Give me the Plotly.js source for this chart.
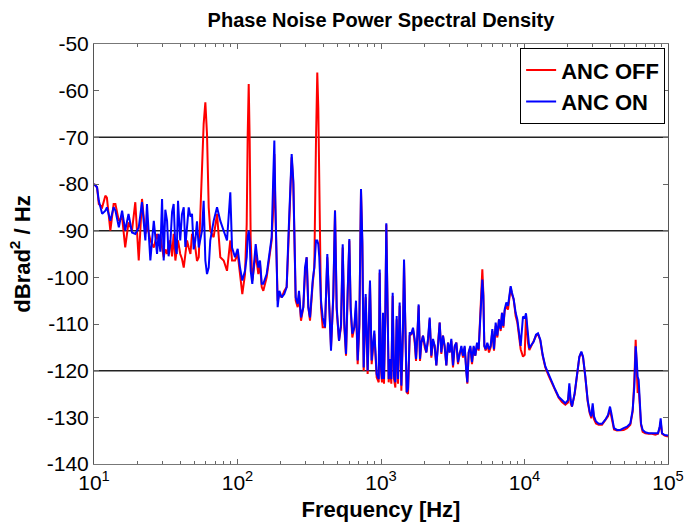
<!DOCTYPE html>
<html>
<head>
<meta charset="utf-8">
<script src="https://cdn.plot.ly/plotly-3.0.1.min.js"></script>
<style>html,body{margin:0;padding:0;background:#fff;}#chart{width:689px;height:528px;}</style>
</head>
<body>
<div id="chart"></div>
<script>
// Frequency axis (Hz)
const freqHz = [
  10, 10.5, 10.8, 11.4, 12.0, 12.3, 13.0, 13.7, 14.1, 14.9,
  15.7, 16.5, 17.4, 18.4, 19.4, 20.5, 21.6, 22.8, 23.4, 24.7,
  26.1, 27.5, 28.2, 29.0, 29.8, 30.6, 31.4, 32.3, 33.1, 34.0,
  35.0, 35.9, 36.9, 37.7, 38.5, 39.9, 41.0, 42.2, 43.3, 44.5,
  45.7, 47.0, 48.2, 49.5, 50.8, 52.2, 53.7, 56.6, 58.1, 59.7,
  61.3, 63.0, 64.6, 68.2, 72.0, 75.9, 80.1, 84.5, 89.1, 91.6,
  96.1, 100.3, 104.1, 108.0, 112.8, 115.9, 117.8, 119.7, 121.6, 123.6,
  126.8, 133.9, 139.7, 143.5, 147.5, 151.3, 159.7, 165.8, 173.0, 177.7,
  180.6, 183.5, 187.6, 190.5, 195.7, 203.2, 211.8, 220.1, 225.9, 232.1,
  238.5, 244.9, 248.9, 254.4, 262.7, 268.3, 277.0, 287.5, 295.4, 303.4,
  311.5, 320.1, 334.2, 342.9, 352.4, 359.7, 365.6, 371.5, 381.8, 392.3,
  407.2, 422.5, 436.3, 448.3, 465.2, 478.1, 491.3, 509.8, 526.5, 540.9,
  555.4, 570.4, 585.9, 601.7, 614.7, 631.3, 651.7, 669.6, 687.8, 706.3,
  725.5, 741.3, 757.3, 781.9, 807.2, 838.0, 861.0, 898.5, 932.9,
  964, 979, 995, 1016, 1033, 1049, 1072, 1089, 1107, 1131,
  1155, 1180, 1206, 1232, 1259, 1286, 1314, 1349, 1386, 1423,
  1447, 1478, 1510, 1543, 1585, 1627, 1671, 1717, 1754, 1792,
  1830, 1870, 1910, 1962, 2016, 2070, 2126, 2184, 2243, 2304,
  2366, 2430, 2496, 2564, 2633, 2704, 2778, 2853, 2930, 3010,
  3091, 3175, 3261, 3350, 3440, 3534, 3630, 3728, 3828, 3932,
  3996, 4083, 4193, 4307, 4424, 4543, 4667, 4793, 4897, 5003,
  5083, 5165, 5249, 5363, 5508, 5657, 5810, 5968, 6130, 6296,
  6467, 6642, 6822, 6970, 7120, 7275, 7472, 7674, 7882, 8010,
  8183, 8405, 8678, 8913, 9154, 9403,
  9761, 10032, 10244, 10578, 10808, 11159, 11584, 12025, 12418, 12891,
  13384, 13970, 14735, 15544, 16398, 17298, 18248, 19250, 20099, 20533,
  20977, 21430, 22368, 23225, 24111, 24898, 25573, 26546, 27556, 28455,
  29226, 29859, 30506, 31500, 32880, 34687, 36590, 38190, 39433, 40287,
  41159, 42050, 44125, 46545, 49095, 51800, 54640, 56730, 58270, 59530,
  60490, 61460, 62450, 63460, 64830, 66590, 69500, 73330, 77350, 81600,
  85170, 87480, 88900, 90840, 94800, 100000
];

// ANC OFF (dBrad^2/Hz)
const ancOffDb = [
  -80.0, -80.7, -84.3, -85.0, -82.5, -82.9, -90.0, -84.3, -84.3, -87.9,
  -87.1, -93.6, -88.2, -90.0, -83.9, -96.4, -83.2, -90.7, -88.6, -92.1,
  -93.6, -90.7, -92.1, -91.0, -93.6, -95.7, -94.0, -95.0, -93.0, -92.1,
  -95.5, -90.7, -96.4, -93.5, -92.1, -95.0, -96.0, -97.9, -94.5, -92.1,
  -93.6, -95.0, -90.7, -91.5, -93.6, -96.5, -95.7, -77.9, -67.1, -62.5,
  -69.3, -85.0, -90.0, -91.4, -86.4, -95.7, -96.4, -98.6, -92.1, -96.4,
  -96.4, -95.0, -99.3, -103.6, -99.3, -88.6, -69.3, -58.6, -70.7, -92.1,
  -100.7, -95.0, -99.3, -97.1, -102.1, -102.9, -100.0, -96.4, -92.1, -85.0,
  -73.6, -85.0, -99.3, -105.0, -103.6, -104.3, -102.9, -102.1, -93.6, -84.3,
  -74.3, -80.0, -92.1, -105.0, -106.4, -103.6, -109.3, -106.4, -99.3, -95.7,
  -106.4, -109.3, -101.4, -97.9, -70.7, -56.1, -63.6, -85.0, -106.4, -110.7,
  -110.7, -95.7, -107.1, -115.0, -104.3, -85.7, -107.1, -113.6, -110.7, -93.6,
  -110.7, -116.8, -103.6, -92.1, -107.1, -112.9, -110.7, -106.4, -118.6, -110.7,
  -81.4, -92.9, -120.0, -104.3, -120.7, -101.4, -118.6, -112.1, -121.4,
  -122.5, -99.0, -118.9, -122.5, -108.3, -122.8, -108.3, -88.7, -101.2, -122.5,
  -118.9, -122.8, -104.0, -121.8, -123.6, -109.0, -122.8, -106.1, -124.3, -111.8,
  -96.9, -111.8, -124.6, -125.0, -112.5, -112.2, -111.1, -114.0, -117.9, -112.5,
  -106.1, -117.9, -114.0, -112.5, -115.0, -116.1, -113.6, -109.0, -117.2, -113.6,
  -114.7, -118.9, -114.7, -109.7, -116.4, -112.5, -115.0, -118.9, -114.0, -116.1,
  -113.6, -119.3, -115.0, -114.0, -118.6, -116.1, -115.4, -117.2, -115.0, -120.4,
  -122.8, -116.1, -115.0, -118.6, -115.0, -116.8, -114.3, -115.7, -110.4, -104.7,
  -98.3, -103.3, -114.7, -115.7, -114.3, -116.1, -115.0, -111.5, -115.7, -110.4,
  -112.9, -109.0, -111.5, -107.6, -110.8, -107.2, -106.1, -106.9, -102.9, -102.2,
  -103.7, -104.7, -108.3, -109.7, -112.5, -115.4,
  -117.0, -116.6, -108.1, -114.1, -115.6, -114.7, -114.0, -112.6, -112.1, -113.6,
  -116.8, -119.3, -121.1, -122.6, -124.3, -125.8, -126.7, -127.3, -126.8, -123.4,
  -127.0, -127.7, -125.0, -120.7, -117.1, -116.1, -117.1, -121.4, -126.6, -129.1,
  -130.2, -127.7, -130.4, -131.3, -131.6, -131.6, -130.7, -129.8, -128.4, -129.8,
  -131.3, -132.6, -132.8, -132.8, -132.7, -132.3, -131.6, -128.8, -122.0, -113.4,
  -119.8, -124.8, -123.4, -127.0, -131.6, -133.1, -133.4, -133.5, -133.5, -133.7,
  -133.5, -132.3, -130.9, -133.5, -133.9, -134.1
];

// ANC ON (dBrad^2/Hz)
const ancOnDb = [
  -80.0, -80.7, -83.6, -86.4, -85.7, -85.0, -87.9, -85.0, -85.7, -89.3,
  -85.7, -90.0, -86.4, -90.4, -90.7, -89.3, -83.9, -92.1, -84.3, -96.4,
  -87.9, -95.0, -90.7, -94.5, -83.2, -96.4, -85.5, -87.9, -95.5, -92.9,
  -86.0, -84.3, -93.6, -95.0, -83.6, -92.1, -86.5, -85.0, -93.5, -89.3,
  -85.0, -87.0, -86.4, -94.0, -92.1, -88.0, -93.6, -90.0, -83.6, -96.4,
  -99.3, -97.9, -92.1, -87.9, -85.0, -87.9, -90.0, -92.1, -81.8, -93.6,
  -95.7, -93.9, -97.9, -100.7, -98.6, -95.7, -91.4, -90.0, -92.1, -98.6,
  -101.4, -92.9, -97.9, -96.4, -101.4, -101.4, -99.3, -95.7, -91.4, -77.9,
  -70.7, -83.6, -99.3, -106.4, -102.9, -104.3, -103.6, -102.1, -92.1, -83.6,
  -73.6, -79.3, -92.1, -104.3, -105.7, -102.9, -108.6, -106.4, -97.9, -95.7,
  -106.4, -108.6, -100.7, -97.9, -92.1, -92.1, -92.9, -95.7, -105.0, -108.6,
  -110.7, -95.0, -106.4, -115.7, -103.6, -85.7, -106.4, -113.6, -110.0, -92.9,
  -110.0, -116.4, -102.9, -91.8, -106.4, -112.1, -110.7, -105.0, -117.8, -110.0,
  -81.1, -92.1, -119.3, -103.6, -120.0, -100.7, -117.8, -111.4, -120.7,
  -121.8, -98.3, -118.2, -121.8, -107.6, -121.8, -107.6, -88.4, -100.5, -121.8,
  -117.5, -121.8, -103.3, -121.1, -122.5, -108.3, -121.8, -105.4, -123.2, -111.1,
  -96.2, -111.1, -124.6, -123.9, -111.8, -112.2, -110.8, -113.2, -117.5, -112.5,
  -105.8, -117.5, -114.0, -112.5, -114.7, -116.1, -113.2, -108.6, -116.8, -113.2,
  -114.7, -118.9, -114.7, -109.7, -116.1, -112.5, -114.7, -118.9, -114.0, -116.1,
  -113.2, -118.9, -114.7, -114.0, -118.2, -116.1, -114.7, -116.8, -114.7, -120.4,
  -122.5, -116.1, -114.7, -118.2, -114.7, -116.8, -114.0, -115.4, -110.4, -104.7,
  -100.5, -104.0, -114.7, -115.4, -114.0, -115.4, -114.7, -111.1, -115.4, -109.7,
  -112.5, -109.0, -111.1, -107.6, -110.4, -106.9, -105.4, -106.1, -102.6, -101.9,
  -103.3, -104.7, -107.6, -109.0, -111.8, -114.7,
  -108.4, -108.8, -107.7, -113.4, -115.2, -114.5, -113.8, -112.3, -112.0, -113.4,
  -116.6, -119.1, -120.9, -122.3, -124.1, -125.6, -126.4, -127.0, -126.3, -122.7,
  -126.3, -127.7, -124.8, -120.6, -117.0, -115.9, -117.0, -121.3, -126.3, -128.8,
  -129.8, -127.0, -129.8, -130.9, -131.4, -131.4, -130.5, -129.5, -127.7, -129.1,
  -130.5, -132.3, -132.7, -132.7, -132.3, -132.0, -131.3, -128.4, -123.4, -114.8,
  -117.7, -121.3, -122.0, -126.3, -131.3, -132.7, -133.2, -133.4, -133.4, -133.5,
  -133.4, -132.0, -130.2, -133.4, -133.8, -133.9
];

const seriesNames = ['ANC OFF', 'ANC ON'];
const xTickVals = [10, 100, 1000, 10000, 100000];
const xTickText = ['10<sup>1</sup>', '10<sup>2</sup>', '10<sup>3</sup>', '10<sup>4</sup>', '10<sup>5</sup>'];
const yTickVals = [-140, -130, -120, -110, -100, -90, -80, -70, -60, -50];
const yTickText = ['-140', '-130', '-120', '-110', '-100', '-90', '-80', '-70', '-60', '-50'];
const refLines = [-70, -90, -120];

const FONT = 'Liberation Sans, Arial, Helvetica, sans-serif';

const traces = [
  { x: freqHz, y: ancOffDb, name: seriesNames[0], type: 'scatter', mode: 'lines',
    line: { color: '#ff0000', width: 2 } },
  { x: freqHz, y: ancOnDb, name: seriesNames[1], type: 'scatter', mode: 'lines',
    line: { color: '#0000ff', width: 2 } }
];

const layout = {
  width: 689, height: 528,
  margin: { l: 94, r: 21, t: 44, b: 64 },
  paper_bgcolor: '#ffffff', plot_bgcolor: '#ffffff',
  font: { family: FONT, color: '#000' },
  showlegend: true,
  title: { text: 'Phase Noise Power Spectral Density', xref: 'paper', x: 0.5, xanchor: 'center',
           y: 0.963, yanchor: 'middle', font: { family: FONT, size: 20, weight: 'bold', color: '#000' } },
  xaxis: {
    type: 'log', range: [1, 5], tickmode: 'array', tickvals: xTickVals, ticktext: xTickText,
    ticks: 'inside', ticklen: 5, tickcolor: '#666', showline: true, linecolor: '#777', linewidth: 1,
    mirror: 'ticks', showgrid: false, zeroline: false,
    minor: { ticks: 'inside', ticklen: 3, tickcolor: '#666', dtick: 'D1', showgrid: false },
    tickfont: { family: FONT, size: 21, color: '#000' },
    title: { text: 'Frequency [Hz]', standoff: 8, font: { family: FONT, size: 22, weight: 'bold', color: '#000' } }
  },
  yaxis: {
    range: [-140, -50], tickmode: 'array', tickvals: yTickVals, ticktext: yTickText,
    ticks: 'inside', ticklen: 5, tickcolor: '#666', showline: true, linecolor: '#555', linewidth: 1,
    mirror: 'ticks', showgrid: false, zeroline: false,
    tickfont: { family: FONT, size: 21, color: '#000' },
    title: { text: 'dBrad<sup>2</sup> / Hz', standoff: 10, font: { family: FONT, size: 22, weight: 'bold', color: '#000' } }
  },
  legend: {
    x: 0.995, xanchor: 'right', y: 0.99, yanchor: 'top',
    bgcolor: '#ffffff', bordercolor: '#000', borderwidth: 1,
    font: { family: FONT, size: 22, weight: 'bold', color: '#000' },
    itemwidth: 30, tracegroupgap: 0
  },
  shapes: refLines.map(v => ({
    type: 'line', xref: 'paper', x0: 0, x1: 1, yref: 'y', y0: v, y1: v,
    line: { color: '#222', width: 1.5 }, layer: 'below'
  }))
};

Plotly.newPlot('chart', traces, layout, { staticPlot: true, displayModeBar: false });
</script>
</body>
</html>
